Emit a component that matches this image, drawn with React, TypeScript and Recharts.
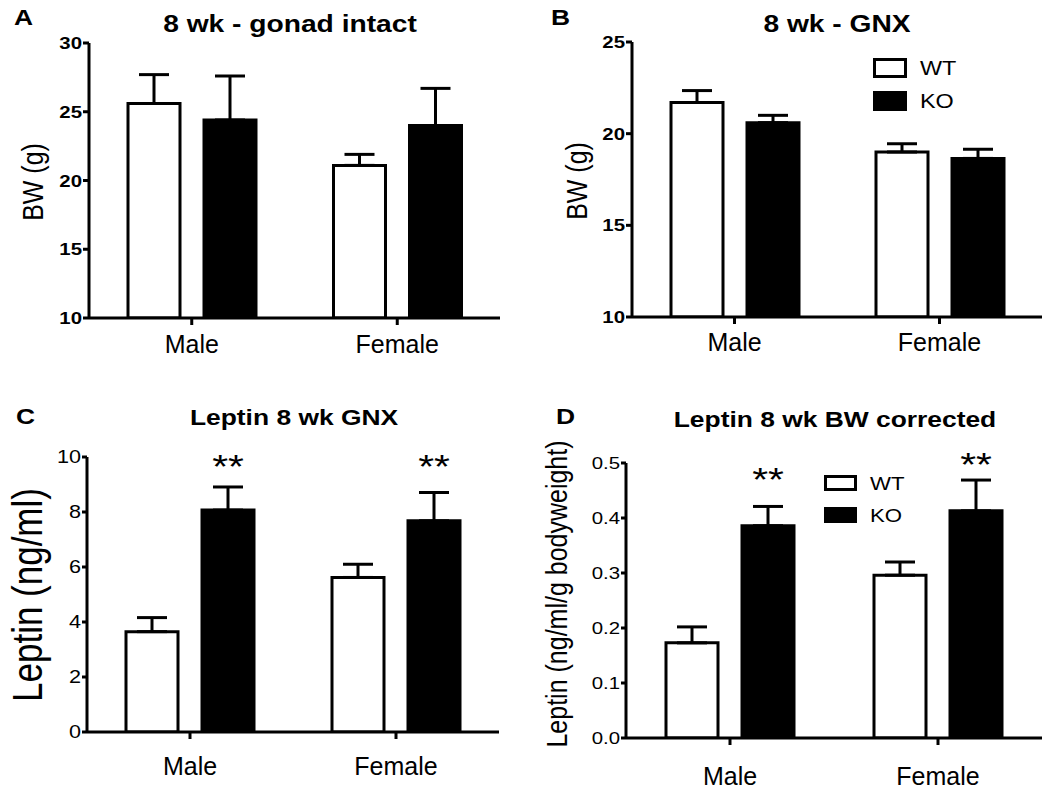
import React from 'react';
import { BarChart, Bar, XAxis, YAxis, ErrorBar, Legend, LabelList } from 'recharts';

const FONT = '"Liberation Sans", Arial, Helvetica, sans-serif';
const SX = 1.2;

// ---------- data ----------
const categories = ['Male', 'Female'];
const seriesNames = ['WT', 'KO'];

// A: 8 wk - gonad intact (BW, g)
const bwIntactWT = [25.6, 21.1];
const bwIntactWTSem = [2.1, 0.8];
const bwIntactKO = [24.4, 24.0];
const bwIntactKOSem = [3.2, 2.7];
const ticksA = [10, 15, 20, 25, 30];

// B: 8 wk - GNX (BW, g)
const bwGnxWT = [21.7, 19.0];
const bwGnxWTSem = [0.65, 0.45];
const bwGnxKO = [20.6, 18.65];
const bwGnxKOSem = [0.4, 0.5];
const ticksB = [10, 15, 20, 25];

// C: Leptin 8 wk GNX (ng/ml)
const leptinWT = [3.65, 5.62];
const leptinWTSem = [0.51, 0.48];
const leptinKO = [8.07, 7.68];
const leptinKOSem = [0.84, 1.03];
const leptinSig = ['**', '**'];
const leptinSigPos = [9.88, 9.88];
const ticksC = [0, 2, 4, 6, 8, 10];

// D: Leptin 8 wk BW corrected (ng/ml/g bodyweight)
const leptinBwWT = [0.173, 0.296];
const leptinBwWTSem = [0.029, 0.024];
const leptinBwKO = [0.386, 0.413];
const leptinBwKOSem = [0.035, 0.056];
const leptinBwSig = ['**', '**'];
const leptinBwSigPos = [0.481, 0.508];
const ticksD = [0, 0.1, 0.2, 0.3, 0.4, 0.5];

const seriesStyle: Record<string, { fill: string; stroke: string }> = {
  WT: { fill: '#ffffff', stroke: '#000000' },
  KO: { fill: '#000000', stroke: '#000000' },
};

function buildData(wt: number[], wtSem: number[], ko: number[], koSem: number[], sig?: string[], sigPos?: number[]) {
  return categories.map((cat, i) => ({
    cat,
    wt: wt[i],
    wtErr: [0, wtSem[i]],
    ko: ko[i],
    koErr: [0, koSem[i]],
    sig: sig ? sig[i] : '',
    sigPos: sigPos ? sigPos[i] : null,
  }));
}

const dataA = buildData(bwIntactWT, bwIntactWTSem, bwIntactKO, bwIntactKOSem);
const dataB = buildData(bwGnxWT, bwGnxWTSem, bwGnxKO, bwGnxKOSem);
const dataC = buildData(leptinWT, leptinWTSem, leptinKO, leptinKOSem, leptinSig, leptinSigPos);
const dataD = buildData(leptinBwWT, leptinBwWTSem, leptinBwKO, leptinBwKOSem, leptinBwSig, leptinBwSigPos);

// ---------- components ----------
type LegendCfg = { left: number; top: number; boxW: number; boxH: number; rowGap: number; textX: number; fs: number };

type PanelCfg = {
  left: number;
  top: number;
  width: number;
  height: number;
  plot: { x0: number; x1: number; y0: number; y1: number };
  data: any[];
  domain: [number, number];
  ticks: number[];
  tickFs: number;
  tickFw: string;
  fmt: (v: number) => string;
  yTickSize: number;
  xTickMargin: number;
  legend?: LegendCfg;
  stars?: boolean;
};

const YW = 60;
const XH = 50;

function Panel({ cfg }: { cfg: PanelCfg }) {
  const { plot } = cfg;
  const margin = {
    top: plot.y0,
    bottom: cfg.height - plot.y1 - XH,
    left: plot.x0 - YW,
    right: cfg.width - plot.x1,
  };
  const axisStyle = { stroke: '#000', strokeWidth: 3 };
  const dmin = cfg.domain[0];
  const starFs = 34;

  const renderStar = (props: any) => {
    const { index, value } = props;
    const vb = props.viewBox || props;
    const x = vb.x;
    const y = vb.y;
    const w = vb.width;
    const h = vb.height;
    const row = cfg.data[index];
    if (!row || !value || row.sigPos == null) return null;
    const pxPerUnit = h / (row.ko - dmin);
    const cy = y + h - (row.sigPos - dmin) * pxPerUnit;
    const cx = x + w / 2;
    return (
      <text
        transform={`translate(${cx},${cy + starFs * 0.52}) scale(${SX},1)`}
        textAnchor="middle"
        fontSize={starFs}
        fontFamily={FONT}
        fill="#000"
      >
        {value}
      </text>
    );
  };

  const renderLegend = (props: any) => {
    const lg = cfg.legend!;
    const payload = [...(props.payload || [])].sort(
      (a: any, b: any) => seriesNames.indexOf(a.value) - seriesNames.indexOf(b.value)
    );
    return (
      <svg width={140} height={lg.rowGap * 2 + lg.boxH} style={{ overflow: 'visible', display: 'block' }}>
        {payload.map((entry: any, i: number) => {
          const name = entry.value as string;
          const st = seriesStyle[name] || { fill: entry.color, stroke: '#000' };
          const yy = i * lg.rowGap;
          return (
            <g key={name}>
              <rect x={1.5} y={yy + 1.5} width={lg.boxW - 3} height={lg.boxH - 3} fill={st.fill} stroke={st.stroke} strokeWidth={3} />
              <text
                transform={`translate(${lg.textX},${yy + lg.boxH / 2}) scale(${SX},1)`}
                dy="0.36em"
                fontSize={lg.fs}
                fontFamily={FONT}
                fill="#000"
              >
                {name}
              </text>
            </g>
          );
        })}
      </svg>
    );
  };

  return (
    <div style={{ position: 'absolute', left: cfg.left, top: cfg.top, width: cfg.width, height: cfg.height }}>
      <BarChart width={cfg.width} height={cfg.height} data={cfg.data} margin={margin} barSize={52} barGap={24}>
        <XAxis
          dataKey="cat"
          height={XH}
          axisLine={axisStyle}
          tickLine={axisStyle}
          tickSize={7}
          tickMargin={cfg.xTickMargin}
          interval={0}
          tick={(p: any) => (
            <text x={p.x} y={p.y} dy="0.71em" textAnchor="middle" fontSize={25} fontFamily={FONT} fill="#000">
              {p.payload.value}
            </text>
          )}
        />
        <YAxis
          type="number"
          width={YW}
          domain={cfg.domain}
          ticks={cfg.ticks}
          allowDataOverflow
          interval={0}
          axisLine={axisStyle}
          tickLine={axisStyle}
          tickSize={cfg.yTickSize}
          tickMargin={1}
          tick={(p: any) => (
            <text
              transform={`translate(${p.x},${p.y}) scale(${SX},1)`}
              dy="0.36em"
              textAnchor="end"
              fontSize={cfg.tickFs}
              fontWeight={cfg.tickFw}
              fontFamily={FONT}
              fill="#000"
            >
              {cfg.fmt(p.payload.value)}
            </text>
          )}
        />
        {cfg.legend && (
          <Legend
            layout="horizontal"
            verticalAlign="middle"
            align="center"
            content={renderLegend}
            wrapperStyle={{ left: cfg.legend.left, top: cfg.legend.top, width: 140 }}
          />
        )}
        <Bar dataKey="wt" name={seriesNames[0]} fill={seriesStyle.WT.fill} stroke={seriesStyle.WT.stroke} strokeWidth={3} isAnimationActive={false}>
          <ErrorBar dataKey="wtErr" width={15} stroke="#000" strokeWidth={3} direction="y" />
        </Bar>
        <Bar dataKey="ko" name={seriesNames[1]} fill={seriesStyle.KO.fill} stroke={seriesStyle.KO.stroke} strokeWidth={3} isAnimationActive={false}>
          <ErrorBar dataKey="koErr" width={15} stroke="#000" strokeWidth={3} direction="y" />
          {cfg.stars && <LabelList dataKey="sig" content={renderStar} />}
        </Bar>
      </BarChart>
    </div>
  );
}

const int0 = (v: number) => String(v);
const dec1 = (v: number) => v.toFixed(1);

const panels: PanelCfg[] = [
  {
    left: 0, top: 0, width: 525, height: 390,
    plot: { x0: 89, x1: 500, y0: 43, y1: 318 },
    data: dataA, domain: [10, 30], ticks: ticksA, tickFs: 17, tickFw: 'bold', fmt: int0,
    yTickSize: 6, xTickMargin: 10,
  },
  {
    left: 525, top: 0, width: 525, height: 390,
    plot: { x0: 107, x1: 517, y0: 42, y1: 317 },
    data: dataB, domain: [10, 25], ticks: ticksB, tickFs: 17, tickFw: 'bold', fmt: int0,
    yTickSize: 6, xTickMargin: 9,
    legend: { left: 348, top: 58, boxW: 34, boxH: 20, rowGap: 33, textX: 47, fs: 19.5 },
  },
  {
    left: 0, top: 390, width: 525, height: 400,
    plot: { x0: 87, x1: 499, y0: 67, y1: 342 },
    data: dataC, domain: [0, 10], ticks: ticksC, tickFs: 18, tickFw: 'normal', fmt: int0,
    yTickSize: 5, xTickMargin: 18, stars: true,
  },
  {
    left: 525, top: 390, width: 525, height: 400,
    plot: { x0: 101, x1: 517, y0: 73, y1: 348 },
    data: dataD, domain: [0, 0.5], ticks: ticksD, tickFs: 17, tickFw: 'normal', fmt: dec1,
    yTickSize: 5, xTickMargin: 22, stars: true,
    legend: { left: 299, top: 85, boxW: 33, boxH: 16, rowGap: 32, textX: 46, fs: 18.5 },
  },
];

const letters = [
  { t: 'A', x: 14, y: 25 },
  { t: 'B', x: 551, y: 25 },
  { t: 'C', x: 16, y: 424 },
  { t: 'D', x: 556, y: 424 },
];

const titles = [
  { t: '8 wk - gonad intact', x: 290, y: 32, fs: 23.5 },
  { t: '8 wk - GNX', x: 837, y: 32, fs: 23.5 },
  { t: 'Leptin 8 wk GNX', x: 294, y: 425, fs: 22 },
  { t: 'Leptin 8 wk BW corrected', x: 835, y: 427, fs: 22 },
];

const yLabels = [
  { t: 'BW (g)', x: 43, y: 182, fs: 25 },
  { t: 'BW (g)', x: 587, y: 181, fs: 25 },
  { t: 'Leptin (ng/ml)', x: 42, y: 595, fs: 35 },
  { t: 'Leptin (ng/ml/g bodyweight)', x: 567, y: 594, fs: 25 },
];

export default function App() {
  return (
    <div style={{ position: 'absolute', left: 0, top: 0, width: 1050, height: 790, background: '#fff', fontFamily: FONT }}>
      {panels.map((p, i) => (
        <Panel key={i} cfg={p} />
      ))}
      <svg width={1050} height={790} style={{ position: 'absolute', left: 0, top: 0, pointerEvents: 'none' }}>
        {letters.map((l) => (
          <text key={l.t} transform={`translate(${l.x},${l.y}) scale(${SX},1)`} fontSize={22} fontWeight="bold" fontFamily={FONT} fill="#000">
            {l.t}
          </text>
        ))}
        {titles.map((t) => (
          <text key={t.t} transform={`translate(${t.x},${t.y}) scale(${SX},1)`} textAnchor="middle" fontSize={t.fs} fontWeight="bold" fontFamily={FONT} fill="#000">
            {t.t}
          </text>
        ))}
        {yLabels.map((l, i) => (
          <text key={i} transform={`translate(${l.x},${l.y}) scale(${SX},1) rotate(-90)`} textAnchor="middle" fontSize={l.fs} fontFamily={FONT} fill="#000">
            {l.t}
          </text>
        ))}
      </svg>
    </div>
  );
}
